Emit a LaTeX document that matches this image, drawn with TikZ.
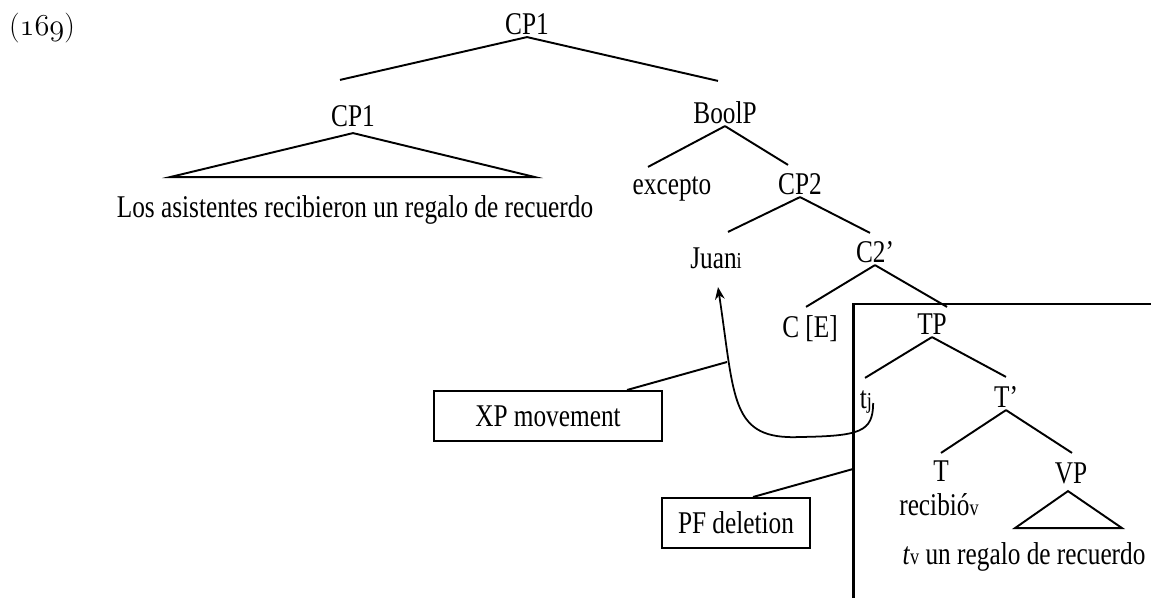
\documentclass[tikz,border=0pt]{standalone}
\usepackage{fontspec}
\newfontfamily\treefont[FakeStretch=0.8]{Liberation Serif}
\usetikzlibrary{arrows.meta,calc}
\newcommand{\idx}[1]{{\fontsize{13}{13}\selectfont #1}}
\tikzset{
  cat/.style={font=\treefont\fontsize{18}{20}\selectfont,inner sep=1pt,text height=12.5pt,text depth=0pt},
  branch/.style={line width=1.1pt},
  elided/.style={line width=1.7pt},
  notebox/.style={draw,line width=1.1pt,minimum height=28.5pt,font=\treefont\fontsize{18}{20}\selectfont},
  moveline/.style={line width=1pt,-{Stealth[length=7pt,width=5.5pt]}}
}
\begin{document}
\begin{tikzpicture}[x=0.02cm,y=-0.02cm]
        \useasboundingbox (0,0) rectangle (1151,598);
        \node[font=\fontsize{17}{19}\selectfont] (exno) at (42,28) {(\ensuremath{\mathnormal{169}})};
        %% upper tree
        \node[cat] (cptop) at (527,24) {CP1};
        \node[cat] (cpa) at (353,116) {CP1};
        \node[cat] (bool) at (725,113) {BoolP};
        \node[cat] (excepto) at (672,184) {excepto};
        \node[cat] (cpb) at (800,184) {CP2};
        \node[cat] (juan) at (716,258) {Juan\idx{i}};
        \node[cat] (cbar) at (875,252) {C2’};
        \node[cat] (ce) at (810,327) {C [E]};
        \node[cat] (los) at (355,207) {Los asistentes recibieron un regalo de recuerdo};
        %% deleted TP
        \node[cat] (tp) at (932,324) {TP};
        \node[cat] (tj) at (866,398) {t\idx{j}};
        \node[cat] (tbar) at (1006,397) {T’};
        \node[cat] (tnode) at (941,471) {T};
        \node[cat] (recib) at (939,505) {recibió\idx{v}};
        \node[cat] (vp) at (1071,473) {VP};
        \node[cat] (vptext) at (1024,554) {\textit{t}\idx{v} un regalo de recuerdo};
        \foreach \p/\c/\dx/\dy in {cptop/cpa/-13/-23, cptop/bool/-7/-19, bool/excepto/-24/-4, bool/cpb/-12/-6,
                cpb/juan/12/-13, cpb/cbar/-5/-6, cbar/ce/-4/-7, cbar/tp/15/-4, tp/tj/-1/-7, tp/tbar/0/-7,
                tbar/tnode/0/-5, tbar/vp/1/-7}
            \draw[branch] (\p.south) -- ($(\c.north)+(\dx,\dy)$);
        \draw[branch] ($(cpa.south)+(0,4)$) -- ++(-183,44) -- ++(365,0) -- cycle;
        \draw[branch] ($(vp.south)+(-3,5)$) -- ++(-53,37) -- ++(107,0) -- cycle;
        %% PF deletion frame
        \coordinate (frame) at (853,304);
        \draw[elided] (1151,304) -- (frame) -- (853,598);
        %% movement
        \draw[moveline] ($(tj.east)+(-1,5)$) .. controls (873,432) and (860,436) .. (800,437)
            .. controls (730,440) and (735,400) .. ($(juan.south)+(2,16)$);
        \node[notebox,minimum width=130pt] (xpbox) at (548,416) {XP movement};
        \node[notebox,minimum width=84pt] (pfbox) at (736,523) {PF deletion};
        \coordinate (xpfoot) at (727,362);
        \coordinate (pffoot) at ($(frame)+(0,165)$);
        \draw[branch] ($(xpbox.north)+(79,0)$) -- (xpfoot);
        \draw[branch] ($(pfbox.north)+(17,0)$) -- (pffoot);
\end{tikzpicture}
\end{document}
